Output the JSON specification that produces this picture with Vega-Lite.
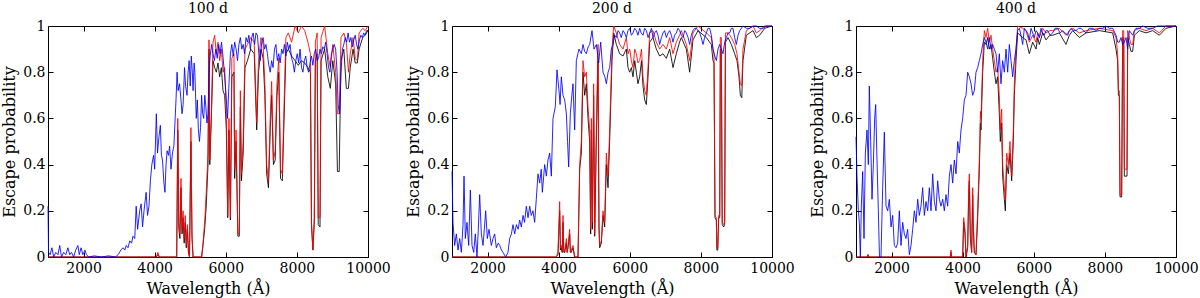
{
"$schema": "https://vega.github.io/schema/vega-lite/v6.json",
"padding": {"left": 1, "top": 1, "right": 2, "bottom": 1},
"spacing": 84,
"bounds": "flush",
"config": {
 "font": "DejaVu Serif",
 "view": {"stroke": "#000", "strokeWidth": 1},
 "axis": {"grid": false, "domain": false, "tickColor": "#000", "tickSize": -5, "tickWidth": 1, "labelFontSize": 14, "labelColor": "#000", "titleFontSize": 16, "titleFontWeight": "normal", "titleColor": "#000", "labelFont": "DejaVu Serif", "titleFont": "DejaVu Serif"},
 "axisX": {"labelPadding": 9, "titlePadding": 5},
 "axisY": {"labelPadding": 8, "titlePadding": 5},
 "title": {"fontSize": 14, "fontWeight": "normal", "font": "DejaVu Serif", "color": "#000", "offset": 3}
},
"datasets": {
"p1": [
{"s":"k","x":1000,"y":0},{"s":"k","x":4050,"y":0},{"s":"k","x":4090,"y":0.01},{"s":"k","x":4130,"y":0},{"s":"k","x":4620,"y":0},{"s":"k","x":4650,"y":0.55},{"s":"k","x":4680,"y":0.12},{"s":"k","x":4710,"y":0.08},{"s":"k","x":4740,"y":0.3},{"s":"k","x":4770,"y":0.1},{"s":"k","x":4800,"y":0.17},{"s":"k","x":4830,"y":0.06},{"s":"k","x":4860,"y":0.15},{"s":"k","x":4890,"y":0.04},{"s":"k","x":4920,"y":0.12},{"s":"k","x":4950,"y":0.02},{"s":"k","x":4980,"y":0},{"s":"k","x":5020,"y":0.5},{"s":"k","x":5050,"y":0.08},{"s":"k","x":5080,"y":0},{"s":"k","x":5320,"y":0},{"s":"k","x":5360,"y":0.05},{"s":"k","x":5410,"y":0.13},{"s":"k","x":5450,"y":0.22},{"s":"k","x":5500,"y":0.4},{"s":"k","x":5528,"y":0.9},{"s":"k","x":5550,"y":0.4},{"s":"k","x":5594,"y":0.6},{"s":"k","x":5641,"y":0.85},{"s":"k","x":5688,"y":0.82},{"s":"k","x":5734,"y":0.8},{"s":"k","x":5781,"y":0.84},{"s":"k","x":5828,"y":0.78},{"s":"k","x":5875,"y":0.82},{"s":"k","x":5922,"y":0.72},{"s":"k","x":5969,"y":0.7},{"s":"k","x":6016,"y":0.55},{"s":"k","x":6055,"y":0.17},{"s":"k","x":6090,"y":0.55},{"s":"k","x":6130,"y":0.16},{"s":"k","x":6170,"y":0.78},{"s":"k","x":6230,"y":0.8},{"s":"k","x":6250,"y":0.34},{"s":"k","x":6290,"y":0.5},{"s":"k","x":6340,"y":0.09},{"s":"k","x":6380,"y":0.09},{"s":"k","x":6410,"y":0.65},{"s":"k","x":6440,"y":0.33},{"s":"k","x":6490,"y":0.45},{"s":"k","x":6540,"y":0.82},{"s":"k","x":6610,"y":0.85},{"s":"k","x":6700,"y":0.9},{"s":"k","x":6800,"y":0.88},{"s":"k","x":6870,"y":0.55},{"s":"k","x":6920,"y":0.8},{"s":"k","x":6990,"y":0.9},{"s":"k","x":7050,"y":0.86},{"s":"k","x":7100,"y":0.7},{"s":"k","x":7150,"y":0.36},{"s":"k","x":7200,"y":0.3},{"s":"k","x":7250,"y":0.55},{"s":"k","x":7290,"y":0.7},{"s":"k","x":7340,"y":0.4},{"s":"k","x":7390,"y":0.42},{"s":"k","x":7440,"y":0.7},{"s":"k","x":7490,"y":0.8},{"s":"k","x":7540,"y":0.34},{"s":"k","x":7590,"y":0.33},{"s":"k","x":7640,"y":0.6},{"s":"k","x":7690,"y":0.88},{"s":"k","x":7760,"y":0.9},{"s":"k","x":7850,"y":0.87},{"s":"k","x":7950,"y":0.85},{"s":"k","x":8040,"y":0.83},{"s":"k","x":8130,"y":0.85},{"s":"k","x":8220,"y":0.84},{"s":"k","x":8310,"y":0.82},{"s":"k","x":8380,"y":0.8},{"s":"k","x":8410,"y":0.14},{"s":"k","x":8450,"y":0.03},{"s":"k","x":8490,"y":0.15},{"s":"k","x":8520,"y":0.85},{"s":"k","x":8570,"y":0.88},{"s":"k","x":8600,"y":0.14},{"s":"k","x":8650,"y":0.13},{"s":"k","x":8680,"y":0.85},{"s":"k","x":8780,"y":0.9},{"s":"k","x":8870,"y":0.78},{"s":"k","x":8940,"y":0.73},{"s":"k","x":9010,"y":0.85},{"s":"k","x":9090,"y":0.75},{"s":"k","x":9140,"y":0.37},{"s":"k","x":9190,"y":0.37},{"s":"k","x":9240,"y":0.85},{"s":"k","x":9320,"y":0.9},{"s":"k","x":9390,"y":0.73},{"s":"k","x":9450,"y":0.73},{"s":"k","x":9500,"y":0.82},{"s":"k","x":9580,"y":0.9},{"s":"k","x":9640,"y":0.84},{"s":"k","x":9700,"y":0.84},{"s":"k","x":9750,"y":0.9},{"s":"k","x":9850,"y":0.95},{"s":"k","x":9920,"y":0.96},{"s":"k","x":10000,"y":0.98},
{"s":"r","x":1000,"y":0},{"s":"r","x":4050,"y":0},{"s":"r","x":4090,"y":0.02},{"s":"r","x":4130,"y":0},{"s":"r","x":4620,"y":0},{"s":"r","x":4650,"y":0.6},{"s":"r","x":4680,"y":0.15},{"s":"r","x":4710,"y":0.1},{"s":"r","x":4740,"y":0.34},{"s":"r","x":4770,"y":0.12},{"s":"r","x":4800,"y":0.2},{"s":"r","x":4830,"y":0.08},{"s":"r","x":4860,"y":0.18},{"s":"r","x":4890,"y":0.05},{"s":"r","x":4920,"y":0.14},{"s":"r","x":4950,"y":0.02},{"s":"r","x":4980,"y":0},{"s":"r","x":5020,"y":0.56},{"s":"r","x":5050,"y":0.1},{"s":"r","x":5080,"y":0},{"s":"r","x":5320,"y":0},{"s":"r","x":5360,"y":0.06},{"s":"r","x":5410,"y":0.16},{"s":"r","x":5450,"y":0.28},{"s":"r","x":5500,"y":0.45},{"s":"r","x":5528,"y":0.94},{"s":"r","x":5550,"y":0.42},{"s":"r","x":5594,"y":0.62},{"s":"r","x":5641,"y":0.93},{"s":"r","x":5688,"y":0.96},{"s":"r","x":5734,"y":0.88},{"s":"r","x":5781,"y":0.93},{"s":"r","x":5828,"y":0.85},{"s":"r","x":5875,"y":0.9},{"s":"r","x":5922,"y":0.8},{"s":"r","x":5969,"y":0.82},{"s":"r","x":6016,"y":0.62},{"s":"r","x":6055,"y":0.18},{"s":"r","x":6090,"y":0.6},{"s":"r","x":6130,"y":0.17},{"s":"r","x":6170,"y":0.86},{"s":"r","x":6230,"y":0.88},{"s":"r","x":6250,"y":0.38},{"s":"r","x":6290,"y":0.55},{"s":"r","x":6340,"y":0.1},{"s":"r","x":6380,"y":0.1},{"s":"r","x":6410,"y":0.72},{"s":"r","x":6440,"y":0.36},{"s":"r","x":6490,"y":0.5},{"s":"r","x":6540,"y":0.9},{"s":"r","x":6610,"y":0.92},{"s":"r","x":6700,"y":0.95},{"s":"r","x":6800,"y":0.93},{"s":"r","x":6870,"y":0.58},{"s":"r","x":6920,"y":0.85},{"s":"r","x":6990,"y":0.95},{"s":"r","x":7050,"y":0.92},{"s":"r","x":7100,"y":0.75},{"s":"r","x":7150,"y":0.4},{"s":"r","x":7200,"y":0.33},{"s":"r","x":7250,"y":0.6},{"s":"r","x":7290,"y":0.76},{"s":"r","x":7340,"y":0.42},{"s":"r","x":7390,"y":0.46},{"s":"r","x":7440,"y":0.75},{"s":"r","x":7490,"y":0.86},{"s":"r","x":7540,"y":0.38},{"s":"r","x":7590,"y":0.36},{"s":"r","x":7640,"y":0.66},{"s":"r","x":7690,"y":0.95},{"s":"r","x":7760,"y":0.97},{"s":"r","x":7850,"y":0.93},{"s":"r","x":7950,"y":1.0},{"s":"r","x":8040,"y":0.97},{"s":"r","x":8130,"y":1.0},{"s":"r","x":8220,"y":0.98},{"s":"r","x":8310,"y":0.93},{"s":"r","x":8380,"y":0.88},{"s":"r","x":8410,"y":0.15},{"s":"r","x":8450,"y":0.03},{"s":"r","x":8490,"y":0.17},{"s":"r","x":8520,"y":0.93},{"s":"r","x":8570,"y":0.97},{"s":"r","x":8600,"y":0.17},{"s":"r","x":8650,"y":0.17},{"s":"r","x":8680,"y":0.95},{"s":"r","x":8780,"y":1.0},{"s":"r","x":8870,"y":0.88},{"s":"r","x":8940,"y":0.82},{"s":"r","x":9010,"y":0.92},{"s":"r","x":9090,"y":0.8},{"s":"r","x":9140,"y":0.62},{"s":"r","x":9190,"y":0.62},{"s":"r","x":9240,"y":0.95},{"s":"r","x":9320,"y":0.97},{"s":"r","x":9390,"y":0.93},{"s":"r","x":9450,"y":0.8},{"s":"r","x":9500,"y":0.88},{"s":"r","x":9580,"y":0.95},{"s":"r","x":9640,"y":0.86},{"s":"r","x":9700,"y":0.85},{"s":"r","x":9750,"y":0.97},{"s":"r","x":9850,"y":0.99},{"s":"r","x":9920,"y":0.98},{"s":"r","x":10000,"y":1.0},
{"s":"b","x":1000,"y":0.22},{"s":"b","x":1015,"y":0.02},{"s":"b","x":1060,"y":0.01},{"s":"b","x":1110,"y":0.04},{"s":"b","x":1160,"y":0},{"s":"b","x":1220,"y":0.02},{"s":"b","x":1280,"y":0.01},{"s":"b","x":1330,"y":0.05},{"s":"b","x":1380,"y":0},{"s":"b","x":1440,"y":0.02},{"s":"b","x":1500,"y":0.01},{"s":"b","x":1560,"y":0.04},{"s":"b","x":1610,"y":0.01},{"s":"b","x":1660,"y":0.02},{"s":"b","x":1720,"y":0},{"s":"b","x":1780,"y":0.03},{"s":"b","x":1840,"y":0.05},{"s":"b","x":1880,"y":0.01},{"s":"b","x":1930,"y":0.04},{"s":"b","x":1980,"y":0.01},{"s":"b","x":2040,"y":0.03},{"s":"b","x":2080,"y":0.01},{"s":"b","x":2150,"y":0},{"s":"b","x":2300,"y":0.005},{"s":"b","x":2500,"y":0},{"s":"b","x":2700,"y":0.005},{"s":"b","x":2900,"y":0},{"s":"b","x":2970,"y":0.01},{"s":"b","x":3050,"y":0.03},{"s":"b","x":3110,"y":0.04},{"s":"b","x":3160,"y":0.03},{"s":"b","x":3200,"y":0.05},{"s":"b","x":3250,"y":0.04},{"s":"b","x":3300,"y":0.07},{"s":"b","x":3350,"y":0.06},{"s":"b","x":3390,"y":0.09},{"s":"b","x":3440,"y":0.08},{"s":"b","x":3480,"y":0.22},{"s":"b","x":3520,"y":0.12},{"s":"b","x":3580,"y":0.2},{"s":"b","x":3620,"y":0.23},{"s":"b","x":3660,"y":0.13},{"s":"b","x":3700,"y":0.2},{"s":"b","x":3760,"y":0.28},{"s":"b","x":3800,"y":0.18},{"s":"b","x":3840,"y":0.22},{"s":"b","x":3880,"y":0.33},{"s":"b","x":3920,"y":0.4},{"s":"b","x":3970,"y":0.44},{"s":"b","x":4000,"y":0.38},{"s":"b","x":4047,"y":0.62},{"s":"b","x":4080,"y":0.45},{"s":"b","x":4120,"y":0.52},{"s":"b","x":4160,"y":0.57},{"s":"b","x":4190,"y":0.44},{"s":"b","x":4220,"y":0.42},{"s":"b","x":4260,"y":0.32},{"s":"b","x":4290,"y":0.28},{"s":"b","x":4320,"y":0.4},{"s":"b","x":4350,"y":0.46},{"s":"b","x":4390,"y":0.44},{"s":"b","x":4420,"y":0.48},{"s":"b","x":4460,"y":0.38},{"s":"b","x":4500,"y":0.45},{"s":"b","x":4540,"y":0.48},{"s":"b","x":4570,"y":0.58},{"s":"b","x":4600,"y":0.68},{"s":"b","x":4630,"y":0.8},{"s":"b","x":4660,"y":0.72},{"s":"b","x":4700,"y":0.75},{"s":"b","x":4740,"y":0.68},{"s":"b","x":4770,"y":0.62},{"s":"b","x":4800,"y":0.66},{"s":"b","x":4840,"y":0.82},{"s":"b","x":4870,"y":0.74},{"s":"b","x":4910,"y":0.7},{"s":"b","x":4940,"y":0.8},{"s":"b","x":4970,"y":0.85},{"s":"b","x":5000,"y":0.74},{"s":"b","x":5030,"y":0.87},{"s":"b","x":5060,"y":0.8},{"s":"b","x":5080,"y":0.72},{"s":"b","x":5110,"y":0.84},{"s":"b","x":5130,"y":0.8},{"s":"b","x":5170,"y":0.6},{"s":"b","x":5200,"y":0.68},{"s":"b","x":5230,"y":0.55},{"s":"b","x":5260,"y":0.5},{"s":"b","x":5290,"y":0.56},{"s":"b","x":5320,"y":0.7},{"s":"b","x":5350,"y":0.62},{"s":"b","x":5380,"y":0.6},{"s":"b","x":5410,"y":0.7},{"s":"b","x":5440,"y":0.65},{"s":"b","x":5470,"y":0.58},{"s":"b","x":5500,"y":0.62},{"s":"b","x":5530,"y":0.8},{"s":"b","x":5560,"y":0.87},{"s":"b","x":5600,"y":0.92},{"s":"b","x":5640,"y":0.88},{"s":"b","x":5680,"y":0.85},{"s":"b","x":5720,"y":0.9},{"s":"b","x":5760,"y":0.86},{"s":"b","x":5800,"y":0.92},{"s":"b","x":5840,"y":0.88},{"s":"b","x":5880,"y":0.93},{"s":"b","x":5920,"y":0.87},{"s":"b","x":5960,"y":0.8},{"s":"b","x":6000,"y":0.72},{"s":"b","x":6050,"y":0.6},{"s":"b","x":6090,"y":0.75},{"s":"b","x":6130,"y":0.88},{"s":"b","x":6170,"y":0.92},{"s":"b","x":6210,"y":0.87},{"s":"b","x":6250,"y":0.93},{"s":"b","x":6290,"y":0.9},{"s":"b","x":6330,"y":0.85},{"s":"b","x":6370,"y":0.92},{"s":"b","x":6410,"y":0.95},{"s":"b","x":6450,"y":0.9},{"s":"b","x":6490,"y":0.92},{"s":"b","x":6530,"y":0.88},{"s":"b","x":6570,"y":0.95},{"s":"b","x":6610,"y":0.93},{"s":"b","x":6650,"y":0.96},{"s":"b","x":6690,"y":0.9},{"s":"b","x":6730,"y":0.95},{"s":"b","x":6770,"y":0.97},{"s":"b","x":6810,"y":0.92},{"s":"b","x":6850,"y":0.97},{"s":"b","x":6890,"y":0.96},{"s":"b","x":6930,"y":0.88},{"s":"b","x":6970,"y":0.85},{"s":"b","x":7010,"y":0.93},{"s":"b","x":7050,"y":0.95},{"s":"b","x":7090,"y":0.9},{"s":"b","x":7130,"y":0.92},{"s":"b","x":7170,"y":0.88},{"s":"b","x":7210,"y":0.83},{"s":"b","x":7250,"y":0.8},{"s":"b","x":7290,"y":0.85},{"s":"b","x":7330,"y":0.82},{"s":"b","x":7370,"y":0.9},{"s":"b","x":7410,"y":0.92},{"s":"b","x":7450,"y":0.85},{"s":"b","x":7490,"y":0.88},{"s":"b","x":7530,"y":0.84},{"s":"b","x":7570,"y":0.9},{"s":"b","x":7610,"y":0.88},{"s":"b","x":7650,"y":0.92},{"s":"b","x":7690,"y":0.87},{"s":"b","x":7730,"y":0.93},{"s":"b","x":7770,"y":0.9},{"s":"b","x":7810,"y":0.92},{"s":"b","x":7850,"y":0.86},{"s":"b","x":7890,"y":0.84},{"s":"b","x":7930,"y":0.8},{"s":"b","x":7970,"y":0.85},{"s":"b","x":8010,"y":0.88},{"s":"b","x":8050,"y":0.84},{"s":"b","x":8090,"y":0.9},{"s":"b","x":8130,"y":0.82},{"s":"b","x":8170,"y":0.8},{"s":"b","x":8210,"y":0.85},{"s":"b","x":8250,"y":0.87},{"s":"b","x":8290,"y":0.82},{"s":"b","x":8330,"y":0.8},{"s":"b","x":8370,"y":0.84},{"s":"b","x":8410,"y":0.87},{"s":"b","x":8450,"y":0.83},{"s":"b","x":8490,"y":0.88},{"s":"b","x":8530,"y":0.9},{"s":"b","x":8570,"y":0.85},{"s":"b","x":8610,"y":0.86},{"s":"b","x":8650,"y":0.9},{"s":"b","x":8690,"y":0.88},{"s":"b","x":8730,"y":0.91},{"s":"b","x":8770,"y":0.9},{"s":"b","x":8810,"y":0.93},{"s":"b","x":8850,"y":0.88},{"s":"b","x":8890,"y":0.82},{"s":"b","x":8930,"y":0.8},{"s":"b","x":8970,"y":0.88},{"s":"b","x":9010,"y":0.9},{"s":"b","x":9050,"y":0.92},{"s":"b","x":9090,"y":0.9},{"s":"b","x":9130,"y":0.8},{"s":"b","x":9160,"y":0.66},{"s":"b","x":9200,"y":0.62},{"s":"b","x":9240,"y":0.8},{"s":"b","x":9280,"y":0.9},{"s":"b","x":9320,"y":0.92},{"s":"b","x":9360,"y":0.95},{"s":"b","x":9400,"y":0.93},{"s":"b","x":9440,"y":0.97},{"s":"b","x":9480,"y":0.93},{"s":"b","x":9520,"y":0.95},{"s":"b","x":9560,"y":0.91},{"s":"b","x":9600,"y":0.94},{"s":"b","x":9640,"y":0.96},{"s":"b","x":9680,"y":0.92},{"s":"b","x":9720,"y":0.9},{"s":"b","x":9760,"y":0.94},{"s":"b","x":9800,"y":0.96},{"s":"b","x":9840,"y":0.95},{"s":"b","x":9880,"y":0.97},{"s":"b","x":9920,"y":0.96},{"s":"b","x":9960,"y":0.98},{"s":"b","x":10000,"y":0.98}
],
"p2": [
{"s":"k","x":1000,"y":0},{"s":"k","x":3934,"y":0},{"s":"k","x":3981,"y":0.01},{"s":"k","x":4028,"y":0.2},{"s":"k","x":4050,"y":0.03},{"s":"k","x":4075,"y":0.04},{"s":"k","x":4100,"y":0.02},{"s":"k","x":4122,"y":0.15},{"s":"k","x":4145,"y":0.02},{"s":"k","x":4169,"y":0.02},{"s":"k","x":4216,"y":0.06},{"s":"k","x":4240,"y":0.02},{"s":"k","x":4263,"y":0.04},{"s":"k","x":4309,"y":0.1},{"s":"k","x":4330,"y":0.02},{"s":"k","x":4356,"y":0.02},{"s":"k","x":4403,"y":0.04},{"s":"k","x":4450,"y":0},{"s":"k","x":4544,"y":0},{"s":"k","x":4591,"y":0.38},{"s":"k","x":4638,"y":0.45},{"s":"k","x":4684,"y":0.8},{"s":"k","x":4731,"y":0.7},{"s":"k","x":4778,"y":0.75},{"s":"k","x":4825,"y":0.6},{"s":"k","x":4872,"y":0.5},{"s":"k","x":4900,"y":0.1},{"s":"k","x":4919,"y":0.55},{"s":"k","x":4947,"y":0.12},{"s":"k","x":4984,"y":0.7},{"s":"k","x":5013,"y":0.09},{"s":"k","x":5059,"y":0.5},{"s":"k","x":5106,"y":0.85},{"s":"k","x":5134,"y":0.12},{"s":"k","x":5153,"y":0.04},{"s":"k","x":5200,"y":0.06},{"s":"k","x":5247,"y":0.18},{"s":"k","x":5294,"y":0.13},{"s":"k","x":5341,"y":0.4},{"s":"k","x":5388,"y":0.3},{"s":"k","x":5434,"y":0.5},{"s":"k","x":5500,"y":0.85},{"s":"k","x":5547,"y":0.97},{"s":"k","x":5622,"y":0.92},{"s":"k","x":5716,"y":0.88},{"s":"k","x":5809,"y":0.87},{"s":"k","x":5903,"y":0.9},{"s":"k","x":5950,"y":0.82},{"s":"k","x":5997,"y":0.8},{"s":"k","x":6045,"y":0.82},{"s":"k","x":6091,"y":0.78},{"s":"k","x":6140,"y":0.85},{"s":"k","x":6184,"y":0.8},{"s":"k","x":6230,"y":0.75},{"s":"k","x":6278,"y":0.78},{"s":"k","x":6330,"y":0.85},{"s":"k","x":6372,"y":0.74},{"s":"k","x":6419,"y":0.68},{"s":"k","x":6466,"y":0.66},{"s":"k","x":6513,"y":0.78},{"s":"k","x":6560,"y":0.93},{"s":"k","x":6653,"y":0.95},{"s":"k","x":6747,"y":0.9},{"s":"k","x":6841,"y":0.87},{"s":"k","x":6934,"y":0.88},{"s":"k","x":7028,"y":0.86},{"s":"k","x":7122,"y":0.9},{"s":"k","x":7216,"y":0.82},{"s":"k","x":7309,"y":0.88},{"s":"k","x":7400,"y":0.93},{"s":"k","x":7450,"y":0.95},{"s":"k","x":7591,"y":0.9},{"s":"k","x":7684,"y":0.8},{"s":"k","x":7778,"y":0.94},{"s":"k","x":7919,"y":0.98},{"s":"k","x":8153,"y":0.95},{"s":"k","x":8294,"y":0.92},{"s":"k","x":8341,"y":0.85},{"s":"k","x":8369,"y":0.84},{"s":"k","x":8397,"y":0.17},{"s":"k","x":8434,"y":0.16},{"s":"k","x":8450,"y":0.03},{"s":"k","x":8475,"y":0.03},{"s":"k","x":8500,"y":0.17},{"s":"k","x":8530,"y":0.17},{"s":"k","x":8547,"y":0.9},{"s":"k","x":8575,"y":0.9},{"s":"k","x":8600,"y":0.14},{"s":"k","x":8641,"y":0.13},{"s":"k","x":8669,"y":0.14},{"s":"k","x":8690,"y":0.93},{"s":"k","x":8763,"y":0.95},{"s":"k","x":8856,"y":0.92},{"s":"k","x":8950,"y":0.88},{"s":"k","x":9016,"y":0.85},{"s":"k","x":9072,"y":0.78},{"s":"k","x":9110,"y":0.7},{"s":"k","x":9150,"y":0.69},{"s":"k","x":9184,"y":0.85},{"s":"k","x":9278,"y":0.96},{"s":"k","x":9466,"y":0.98},{"s":"k","x":9559,"y":0.95},{"s":"k","x":9653,"y":0.96},{"s":"k","x":9794,"y":0.99},{"s":"k","x":10000,"y":1.0},
{"s":"r","x":1000,"y":0},{"s":"r","x":3934,"y":0},{"s":"r","x":3981,"y":0.02},{"s":"r","x":4028,"y":0.24},{"s":"r","x":4050,"y":0.04},{"s":"r","x":4075,"y":0.05},{"s":"r","x":4100,"y":0.02},{"s":"r","x":4122,"y":0.18},{"s":"r","x":4145,"y":0.03},{"s":"r","x":4169,"y":0.02},{"s":"r","x":4216,"y":0.08},{"s":"r","x":4240,"y":0.02},{"s":"r","x":4263,"y":0.05},{"s":"r","x":4309,"y":0.12},{"s":"r","x":4330,"y":0.02},{"s":"r","x":4356,"y":0.03},{"s":"r","x":4403,"y":0.05},{"s":"r","x":4450,"y":0},{"s":"r","x":4544,"y":0},{"s":"r","x":4591,"y":0.4},{"s":"r","x":4638,"y":0.5},{"s":"r","x":4684,"y":0.85},{"s":"r","x":4731,"y":0.78},{"s":"r","x":4778,"y":0.8},{"s":"r","x":4825,"y":0.65},{"s":"r","x":4872,"y":0.55},{"s":"r","x":4900,"y":0.12},{"s":"r","x":4919,"y":0.6},{"s":"r","x":4947,"y":0.15},{"s":"r","x":4984,"y":0.75},{"s":"r","x":5013,"y":0.1},{"s":"r","x":5059,"y":0.55},{"s":"r","x":5106,"y":0.92},{"s":"r","x":5134,"y":0.15},{"s":"r","x":5153,"y":0.05},{"s":"r","x":5200,"y":0.07},{"s":"r","x":5247,"y":0.2},{"s":"r","x":5294,"y":0.15},{"s":"r","x":5341,"y":0.45},{"s":"r","x":5388,"y":0.35},{"s":"r","x":5434,"y":0.55},{"s":"r","x":5500,"y":0.9},{"s":"r","x":5547,"y":1.0},{"s":"r","x":5622,"y":0.97},{"s":"r","x":5716,"y":0.92},{"s":"r","x":5809,"y":0.9},{"s":"r","x":5903,"y":0.95},{"s":"r","x":5950,"y":0.88},{"s":"r","x":5997,"y":0.9},{"s":"r","x":6045,"y":0.85},{"s":"r","x":6091,"y":0.82},{"s":"r","x":6140,"y":0.9},{"s":"r","x":6184,"y":0.88},{"s":"r","x":6230,"y":0.84},{"s":"r","x":6278,"y":0.85},{"s":"r","x":6330,"y":0.9},{"s":"r","x":6372,"y":0.78},{"s":"r","x":6419,"y":0.72},{"s":"r","x":6466,"y":0.7},{"s":"r","x":6513,"y":0.82},{"s":"r","x":6560,"y":0.97},{"s":"r","x":6653,"y":0.98},{"s":"r","x":6747,"y":0.93},{"s":"r","x":6841,"y":0.9},{"s":"r","x":6934,"y":0.92},{"s":"r","x":7028,"y":0.9},{"s":"r","x":7122,"y":0.95},{"s":"r","x":7216,"y":0.88},{"s":"r","x":7309,"y":0.93},{"s":"r","x":7400,"y":0.96},{"s":"r","x":7450,"y":0.98},{"s":"r","x":7591,"y":0.92},{"s":"r","x":7684,"y":0.85},{"s":"r","x":7778,"y":0.97},{"s":"r","x":7919,"y":1.0},{"s":"r","x":8153,"y":0.97},{"s":"r","x":8294,"y":0.95},{"s":"r","x":8341,"y":0.9},{"s":"r","x":8369,"y":0.88},{"s":"r","x":8397,"y":0.18},{"s":"r","x":8434,"y":0.17},{"s":"r","x":8450,"y":0.04},{"s":"r","x":8475,"y":0.04},{"s":"r","x":8500,"y":0.18},{"s":"r","x":8530,"y":0.18},{"s":"r","x":8547,"y":0.95},{"s":"r","x":8575,"y":0.95},{"s":"r","x":8600,"y":0.15},{"s":"r","x":8641,"y":0.14},{"s":"r","x":8669,"y":0.15},{"s":"r","x":8690,"y":0.97},{"s":"r","x":8763,"y":0.97},{"s":"r","x":8856,"y":0.95},{"s":"r","x":8950,"y":0.92},{"s":"r","x":9016,"y":0.88},{"s":"r","x":9072,"y":0.8},{"s":"r","x":9110,"y":0.75},{"s":"r","x":9150,"y":0.74},{"s":"r","x":9184,"y":0.9},{"s":"r","x":9278,"y":0.98},{"s":"r","x":9466,"y":1.0},{"s":"r","x":9559,"y":0.97},{"s":"r","x":9653,"y":0.98},{"s":"r","x":9794,"y":1.0},{"s":"r","x":10000,"y":1.0},
{"s":"b","x":1000,"y":0.37},{"s":"b","x":1028,"y":0.15},{"s":"b","x":1075,"y":0.05},{"s":"b","x":1122,"y":0.1},{"s":"b","x":1169,"y":0.03},{"s":"b","x":1216,"y":0.08},{"s":"b","x":1263,"y":0.02},{"s":"b","x":1310,"y":0.14},{"s":"b","x":1338,"y":0.35},{"s":"b","x":1375,"y":0.08},{"s":"b","x":1422,"y":0.15},{"s":"b","x":1469,"y":0.05},{"s":"b","x":1516,"y":0.29},{"s":"b","x":1563,"y":0.05},{"s":"b","x":1610,"y":0.02},{"s":"b","x":1656,"y":0.1},{"s":"b","x":1703,"y":0},{"s":"b","x":1740,"y":0.12},{"s":"b","x":1778,"y":0.27},{"s":"b","x":1825,"y":0.1},{"s":"b","x":1872,"y":0.05},{"s":"b","x":1910,"y":0.12},{"s":"b","x":1947,"y":0.2},{"s":"b","x":1994,"y":0.08},{"s":"b","x":2041,"y":0.12},{"s":"b","x":2106,"y":0.05},{"s":"b","x":2153,"y":0.08},{"s":"b","x":2200,"y":0.1},{"s":"b","x":2247,"y":0.04},{"s":"b","x":2300,"y":0.06},{"s":"b","x":2341,"y":0.05},{"s":"b","x":2390,"y":0.03},{"s":"b","x":2435,"y":0.02},{"s":"b","x":2510,"y":0},{"s":"b","x":2575,"y":0.02},{"s":"b","x":2622,"y":0.08},{"s":"b","x":2670,"y":0.1},{"s":"b","x":2716,"y":0.14},{"s":"b","x":2763,"y":0.1},{"s":"b","x":2810,"y":0.14},{"s":"b","x":2860,"y":0.12},{"s":"b","x":2903,"y":0.16},{"s":"b","x":2950,"y":0.13},{"s":"b","x":2997,"y":0.18},{"s":"b","x":3040,"y":0.15},{"s":"b","x":3091,"y":0.22},{"s":"b","x":3138,"y":0.17},{"s":"b","x":3185,"y":0.22},{"s":"b","x":3230,"y":0.18},{"s":"b","x":3278,"y":0.2},{"s":"b","x":3325,"y":0.15},{"s":"b","x":3370,"y":0.25},{"s":"b","x":3419,"y":0.36},{"s":"b","x":3466,"y":0.32},{"s":"b","x":3510,"y":0.38},{"s":"b","x":3541,"y":0.28},{"s":"b","x":3606,"y":0.4},{"s":"b","x":3653,"y":0.35},{"s":"b","x":3700,"y":0.42},{"s":"b","x":3747,"y":0.45},{"s":"b","x":3794,"y":0.35},{"s":"b","x":3841,"y":0.6},{"s":"b","x":3906,"y":0.65},{"s":"b","x":3953,"y":0.81},{"s":"b","x":4010,"y":0.72},{"s":"b","x":4040,"y":0.66},{"s":"b","x":4075,"y":0.78},{"s":"b","x":4122,"y":0.7},{"s":"b","x":4170,"y":0.68},{"s":"b","x":4216,"y":0.62},{"s":"b","x":4250,"y":0.5},{"s":"b","x":4281,"y":0.39},{"s":"b","x":4328,"y":0.62},{"s":"b","x":4360,"y":0.68},{"s":"b","x":4403,"y":0.75},{"s":"b","x":4450,"y":0.55},{"s":"b","x":4497,"y":0.85},{"s":"b","x":4540,"y":0.88},{"s":"b","x":4572,"y":0.9},{"s":"b","x":4638,"y":0.88},{"s":"b","x":4685,"y":0.92},{"s":"b","x":4730,"y":0.89},{"s":"b","x":4778,"y":0.88},{"s":"b","x":4830,"y":0.91},{"s":"b","x":4872,"y":0.92},{"s":"b","x":4938,"y":0.98},{"s":"b","x":4994,"y":0.9},{"s":"b","x":5060,"y":0.92},{"s":"b","x":5125,"y":0.84},{"s":"b","x":5182,"y":0.93},{"s":"b","x":5247,"y":0.8},{"s":"b","x":5300,"y":0.78},{"s":"b","x":5341,"y":0.75},{"s":"b","x":5390,"y":0.8},{"s":"b","x":5435,"y":0.82},{"s":"b","x":5480,"y":0.9},{"s":"b","x":5528,"y":0.92},{"s":"b","x":5575,"y":0.96},{"s":"b","x":5622,"y":0.95},{"s":"b","x":5670,"y":0.98},{"s":"b","x":5716,"y":0.97},{"s":"b","x":5760,"y":0.95},{"s":"b","x":5810,"y":0.98},{"s":"b","x":5855,"y":0.97},{"s":"b","x":5903,"y":0.95},{"s":"b","x":5950,"y":0.98},{"s":"b","x":5997,"y":0.99},{"s":"b","x":6045,"y":0.96},{"s":"b","x":6091,"y":0.97},{"s":"b","x":6140,"y":0.99},{"s":"b","x":6185,"y":0.98},{"s":"b","x":6230,"y":0.96},{"s":"b","x":6278,"y":0.99},{"s":"b","x":6320,"y":0.97},{"s":"b","x":6372,"y":0.96},{"s":"b","x":6420,"y":0.99},{"s":"b","x":6466,"y":0.98},{"s":"b","x":6515,"y":0.95},{"s":"b","x":6560,"y":0.97},{"s":"b","x":6610,"y":0.99},{"s":"b","x":6653,"y":0.95},{"s":"b","x":6700,"y":0.97},{"s":"b","x":6747,"y":0.98},{"s":"b","x":6795,"y":0.96},{"s":"b","x":6841,"y":0.92},{"s":"b","x":6890,"y":0.95},{"s":"b","x":6935,"y":0.97},{"s":"b","x":6980,"y":0.98},{"s":"b","x":7028,"y":0.95},{"s":"b","x":7075,"y":0.97},{"s":"b","x":7122,"y":0.98},{"s":"b","x":7170,"y":0.96},{"s":"b","x":7216,"y":0.93},{"s":"b","x":7260,"y":0.96},{"s":"b","x":7310,"y":0.97},{"s":"b","x":7355,"y":0.99},{"s":"b","x":7403,"y":0.98},{"s":"b","x":7450,"y":0.96},{"s":"b","x":7497,"y":0.95},{"s":"b","x":7545,"y":0.98},{"s":"b","x":7591,"y":0.97},{"s":"b","x":7640,"y":0.95},{"s":"b","x":7685,"y":0.92},{"s":"b","x":7730,"y":0.96},{"s":"b","x":7778,"y":0.98},{"s":"b","x":7825,"y":0.99},{"s":"b","x":7872,"y":0.99},{"s":"b","x":7920,"y":0.98},{"s":"b","x":7966,"y":0.97},{"s":"b","x":8010,"y":0.95},{"s":"b","x":8060,"y":0.92},{"s":"b","x":8105,"y":0.95},{"s":"b","x":8153,"y":0.97},{"s":"b","x":8200,"y":0.99},{"s":"b","x":8247,"y":0.99},{"s":"b","x":8295,"y":0.96},{"s":"b","x":8341,"y":0.9},{"s":"b","x":8390,"y":0.87},{"s":"b","x":8435,"y":0.85},{"s":"b","x":8480,"y":0.9},{"s":"b","x":8528,"y":0.92},{"s":"b","x":8575,"y":0.9},{"s":"b","x":8622,"y":0.88},{"s":"b","x":8670,"y":0.93},{"s":"b","x":8716,"y":0.95},{"s":"b","x":8763,"y":0.97},{"s":"b","x":8810,"y":0.97},{"s":"b","x":8856,"y":0.99},{"s":"b","x":8903,"y":0.99},{"s":"b","x":8950,"y":0.95},{"s":"b","x":8997,"y":0.92},{"s":"b","x":9045,"y":0.96},{"s":"b","x":9091,"y":0.98},{"s":"b","x":9138,"y":0.99},{"s":"b","x":9185,"y":1.0},{"s":"b","x":9280,"y":0.99},{"s":"b","x":9372,"y":0.99},{"s":"b","x":9466,"y":1.0},{"s":"b","x":9560,"y":1.0},{"s":"b","x":9650,"y":0.99},{"s":"b","x":9747,"y":0.99},{"s":"b","x":9850,"y":1.0},{"s":"b","x":10000,"y":1.0}
],
"p3": [
{"s":"k","x":1000,"y":0},{"s":"k","x":1320,"y":0},{"s":"k","x":1340,"y":0.01},{"s":"k","x":1360,"y":0},{"s":"k","x":3650,"y":0},{"s":"k","x":3672,"y":0.02},{"s":"k","x":3690,"y":0},{"s":"k","x":3980,"y":0},{"s":"k","x":4000,"y":0},{"s":"k","x":4028,"y":0.15},{"s":"k","x":4066,"y":0.1},{"s":"k","x":4094,"y":0},{"s":"k","x":4141,"y":0.04},{"s":"k","x":4170,"y":0.27},{"s":"k","x":4188,"y":0.33},{"s":"k","x":4216,"y":0.08},{"s":"k","x":4253,"y":0.02},{"s":"k","x":4281,"y":0.27},{"s":"k","x":4300,"y":0.12},{"s":"k","x":4328,"y":0.02},{"s":"k","x":4375,"y":0.01},{"s":"k","x":4422,"y":0.17},{"s":"k","x":4469,"y":0.38},{"s":"k","x":4500,"y":0.58},{"s":"k","x":4516,"y":0.55},{"s":"k","x":4563,"y":0.8},{"s":"k","x":4610,"y":0.93},{"s":"k","x":4656,"y":0.92},{"s":"k","x":4703,"y":0.95},{"s":"k","x":4750,"y":0.9},{"s":"k","x":4797,"y":0.92},{"s":"k","x":4844,"y":0.86},{"s":"k","x":4891,"y":0.8},{"s":"k","x":4938,"y":0.75},{"s":"k","x":4984,"y":0.78},{"s":"k","x":5031,"y":0.62},{"s":"k","x":5059,"y":0.5},{"s":"k","x":5097,"y":0.58},{"s":"k","x":5125,"y":0.35},{"s":"k","x":5172,"y":0.25},{"s":"k","x":5200,"y":0.2},{"s":"k","x":5238,"y":0.4},{"s":"k","x":5284,"y":0.36},{"s":"k","x":5331,"y":0.45},{"s":"k","x":5378,"y":0.33},{"s":"k","x":5425,"y":0.5},{"s":"k","x":5453,"y":0.7},{"s":"k","x":5500,"y":0.85},{"s":"k","x":5547,"y":0.97},{"s":"k","x":5688,"y":0.95},{"s":"k","x":5781,"y":0.94},{"s":"k","x":5875,"y":0.88},{"s":"k","x":5969,"y":0.93},{"s":"k","x":6063,"y":0.9},{"s":"k","x":6110,"y":0.95},{"s":"k","x":6156,"y":0.92},{"s":"k","x":6250,"y":0.97},{"s":"k","x":6344,"y":0.94},{"s":"k","x":6450,"y":0.96},{"s":"k","x":6531,"y":0.96},{"s":"k","x":6719,"y":0.97},{"s":"k","x":6906,"y":0.92},{"s":"k","x":7000,"y":0.96},{"s":"k","x":7094,"y":0.98},{"s":"k","x":7281,"y":0.95},{"s":"k","x":7469,"y":0.97},{"s":"k","x":7844,"y":0.98},{"s":"k","x":8219,"y":0.97},{"s":"k","x":8313,"y":0.9},{"s":"k","x":8359,"y":0.85},{"s":"k","x":8380,"y":0.7},{"s":"k","x":8406,"y":0.7},{"s":"k","x":8425,"y":0.26},{"s":"k","x":8472,"y":0.26},{"s":"k","x":8500,"y":0.95},{"s":"k","x":8530,"y":0.95},{"s":"k","x":8547,"y":0.35},{"s":"k","x":8622,"y":0.35},{"s":"k","x":8641,"y":0.95},{"s":"k","x":8688,"y":0.92},{"s":"k","x":8734,"y":0.89},{"s":"k","x":8781,"y":0.89},{"s":"k","x":8830,"y":0.96},{"s":"k","x":8969,"y":0.98},{"s":"k","x":9156,"y":0.97},{"s":"k","x":9344,"y":0.98},{"s":"k","x":9531,"y":0.96},{"s":"k","x":9719,"y":0.99},{"s":"k","x":10000,"y":1.0},
{"s":"r","x":1000,"y":0},{"s":"r","x":1320,"y":0},{"s":"r","x":1340,"y":0.01},{"s":"r","x":1360,"y":0},{"s":"r","x":3650,"y":0},{"s":"r","x":3672,"y":0.03},{"s":"r","x":3690,"y":0},{"s":"r","x":3980,"y":0},{"s":"r","x":4000,"y":0},{"s":"r","x":4028,"y":0.17},{"s":"r","x":4066,"y":0.12},{"s":"r","x":4094,"y":0},{"s":"r","x":4141,"y":0.05},{"s":"r","x":4170,"y":0.3},{"s":"r","x":4188,"y":0.36},{"s":"r","x":4216,"y":0.1},{"s":"r","x":4253,"y":0.02},{"s":"r","x":4281,"y":0.3},{"s":"r","x":4300,"y":0.15},{"s":"r","x":4328,"y":0.02},{"s":"r","x":4375,"y":0.01},{"s":"r","x":4422,"y":0.2},{"s":"r","x":4469,"y":0.42},{"s":"r","x":4500,"y":0.63},{"s":"r","x":4516,"y":0.6},{"s":"r","x":4563,"y":0.85},{"s":"r","x":4610,"y":0.98},{"s":"r","x":4656,"y":0.95},{"s":"r","x":4703,"y":0.99},{"s":"r","x":4750,"y":0.93},{"s":"r","x":4797,"y":0.96},{"s":"r","x":4844,"y":0.9},{"s":"r","x":4891,"y":0.85},{"s":"r","x":4938,"y":0.8},{"s":"r","x":4984,"y":0.82},{"s":"r","x":5031,"y":0.7},{"s":"r","x":5059,"y":0.55},{"s":"r","x":5097,"y":0.64},{"s":"r","x":5125,"y":0.4},{"s":"r","x":5172,"y":0.3},{"s":"r","x":5200,"y":0.25},{"s":"r","x":5238,"y":0.45},{"s":"r","x":5284,"y":0.4},{"s":"r","x":5331,"y":0.5},{"s":"r","x":5378,"y":0.35},{"s":"r","x":5425,"y":0.55},{"s":"r","x":5453,"y":0.75},{"s":"r","x":5500,"y":0.9},{"s":"r","x":5547,"y":1.0},{"s":"r","x":5688,"y":0.99},{"s":"r","x":5781,"y":0.98},{"s":"r","x":5875,"y":0.93},{"s":"r","x":5969,"y":0.96},{"s":"r","x":6063,"y":0.93},{"s":"r","x":6110,"y":0.97},{"s":"r","x":6156,"y":0.95},{"s":"r","x":6250,"y":0.99},{"s":"r","x":6344,"y":0.97},{"s":"r","x":6450,"y":0.98},{"s":"r","x":6531,"y":0.98},{"s":"r","x":6719,"y":0.99},{"s":"r","x":6906,"y":0.96},{"s":"r","x":7000,"y":0.98},{"s":"r","x":7094,"y":0.99},{"s":"r","x":7281,"y":0.97},{"s":"r","x":7469,"y":0.98},{"s":"r","x":7844,"y":0.99},{"s":"r","x":8219,"y":0.98},{"s":"r","x":8313,"y":0.95},{"s":"r","x":8359,"y":0.88},{"s":"r","x":8380,"y":0.72},{"s":"r","x":8406,"y":0.72},{"s":"r","x":8425,"y":0.27},{"s":"r","x":8472,"y":0.27},{"s":"r","x":8500,"y":0.98},{"s":"r","x":8530,"y":0.98},{"s":"r","x":8547,"y":0.38},{"s":"r","x":8622,"y":0.38},{"s":"r","x":8641,"y":0.98},{"s":"r","x":8688,"y":0.95},{"s":"r","x":8734,"y":0.92},{"s":"r","x":8781,"y":0.92},{"s":"r","x":8830,"y":0.98},{"s":"r","x":8969,"y":0.99},{"s":"r","x":9156,"y":0.98},{"s":"r","x":9344,"y":0.99},{"s":"r","x":9531,"y":0.97},{"s":"r","x":9719,"y":1.0},{"s":"r","x":10000,"y":1.0},
{"s":"b","x":1000,"y":0.52},{"s":"b","x":1028,"y":0.35},{"s":"b","x":1066,"y":0.2},{"s":"b","x":1094,"y":0.15},{"s":"b","x":1122,"y":0},{"s":"b","x":1150,"y":0.22},{"s":"b","x":1188,"y":0.37},{"s":"b","x":1225,"y":0.08},{"s":"b","x":1263,"y":0.45},{"s":"b","x":1310,"y":0.55},{"s":"b","x":1347,"y":0.4},{"s":"b","x":1375,"y":0.74},{"s":"b","x":1413,"y":0.5},{"s":"b","x":1450,"y":0.25},{"s":"b","x":1488,"y":0.4},{"s":"b","x":1525,"y":0.6},{"s":"b","x":1553,"y":0.66},{"s":"b","x":1591,"y":0.42},{"s":"b","x":1628,"y":0.2},{"s":"b","x":1660,"y":0},{"s":"b","x":1703,"y":0},{"s":"b","x":1750,"y":0.3},{"s":"b","x":1797,"y":0.54},{"s":"b","x":1844,"y":0.22},{"s":"b","x":1891,"y":0.2},{"s":"b","x":1938,"y":0.25},{"s":"b","x":1985,"y":0.13},{"s":"b","x":2031,"y":0.18},{"s":"b","x":2078,"y":0.05},{"s":"b","x":2125,"y":0.04},{"s":"b","x":2172,"y":0.06},{"s":"b","x":2219,"y":0.2},{"s":"b","x":2266,"y":0.05},{"s":"b","x":2313,"y":0.15},{"s":"b","x":2360,"y":0.1},{"s":"b","x":2406,"y":0.08},{"s":"b","x":2453,"y":0.12},{"s":"b","x":2500,"y":0.01},{"s":"b","x":2547,"y":0.05},{"s":"b","x":2594,"y":0.12},{"s":"b","x":2641,"y":0.2},{"s":"b","x":2688,"y":0.15},{"s":"b","x":2735,"y":0.25},{"s":"b","x":2781,"y":0.18},{"s":"b","x":2828,"y":0.22},{"s":"b","x":2875,"y":0.3},{"s":"b","x":2922,"y":0.18},{"s":"b","x":2969,"y":0.24},{"s":"b","x":3016,"y":0.2},{"s":"b","x":3063,"y":0.3},{"s":"b","x":3110,"y":0.2},{"s":"b","x":3156,"y":0.36},{"s":"b","x":3203,"y":0.24},{"s":"b","x":3250,"y":0.2},{"s":"b","x":3297,"y":0.33},{"s":"b","x":3344,"y":0.25},{"s":"b","x":3391,"y":0.22},{"s":"b","x":3438,"y":0.25},{"s":"b","x":3485,"y":0.2},{"s":"b","x":3531,"y":0.27},{"s":"b","x":3578,"y":0.22},{"s":"b","x":3625,"y":0.35},{"s":"b","x":3672,"y":0.4},{"s":"b","x":3719,"y":0.32},{"s":"b","x":3766,"y":0.42},{"s":"b","x":3813,"y":0.36},{"s":"b","x":3860,"y":0.5},{"s":"b","x":3906,"y":0.45},{"s":"b","x":3953,"y":0.55},{"s":"b","x":4000,"y":0.6},{"s":"b","x":4047,"y":0.68},{"s":"b","x":4094,"y":0.7},{"s":"b","x":4141,"y":0.8},{"s":"b","x":4188,"y":0.78},{"s":"b","x":4235,"y":0.75},{"s":"b","x":4281,"y":0.7},{"s":"b","x":4328,"y":0.72},{"s":"b","x":4375,"y":0.8},{"s":"b","x":4422,"y":0.82},{"s":"b","x":4469,"y":0.85},{"s":"b","x":4516,"y":0.88},{"s":"b","x":4563,"y":0.92},{"s":"b","x":4610,"y":0.95},{"s":"b","x":4656,"y":0.93},{"s":"b","x":4703,"y":0.9},{"s":"b","x":4750,"y":0.95},{"s":"b","x":4797,"y":0.9},{"s":"b","x":4844,"y":0.92},{"s":"b","x":4890,"y":0.9},{"s":"b","x":4938,"y":0.88},{"s":"b","x":4985,"y":0.8},{"s":"b","x":5031,"y":0.88},{"s":"b","x":5078,"y":0.75},{"s":"b","x":5125,"y":0.85},{"s":"b","x":5172,"y":0.8},{"s":"b","x":5219,"y":0.9},{"s":"b","x":5266,"y":0.8},{"s":"b","x":5313,"y":0.92},{"s":"b","x":5360,"y":0.85},{"s":"b","x":5406,"y":0.78},{"s":"b","x":5453,"y":0.85},{"s":"b","x":5500,"y":0.9},{"s":"b","x":5547,"y":0.98},{"s":"b","x":5594,"y":0.99},{"s":"b","x":5641,"y":0.96},{"s":"b","x":5688,"y":0.92},{"s":"b","x":5735,"y":0.99},{"s":"b","x":5780,"y":0.98},{"s":"b","x":5828,"y":0.97},{"s":"b","x":5875,"y":0.94},{"s":"b","x":5922,"y":0.99},{"s":"b","x":5970,"y":0.97},{"s":"b","x":6016,"y":0.95},{"s":"b","x":6063,"y":0.98},{"s":"b","x":6110,"y":0.97},{"s":"b","x":6156,"y":0.95},{"s":"b","x":6203,"y":0.99},{"s":"b","x":6250,"y":0.97},{"s":"b","x":6297,"y":0.96},{"s":"b","x":6344,"y":0.98},{"s":"b","x":6391,"y":0.98},{"s":"b","x":6460,"y":0.96},{"s":"b","x":6531,"y":0.97},{"s":"b","x":6600,"y":0.99},{"s":"b","x":6672,"y":0.99},{"s":"b","x":6740,"y":0.97},{"s":"b","x":6813,"y":0.98},{"s":"b","x":6880,"y":0.97},{"s":"b","x":6953,"y":0.96},{"s":"b","x":7000,"y":0.98},{"s":"b","x":7047,"y":0.99},{"s":"b","x":7120,"y":0.98},{"s":"b","x":7188,"y":0.98},{"s":"b","x":7260,"y":0.99},{"s":"b","x":7328,"y":0.99},{"s":"b","x":7400,"y":0.98},{"s":"b","x":7469,"y":0.97},{"s":"b","x":7560,"y":0.99},{"s":"b","x":7656,"y":0.99},{"s":"b","x":7750,"y":0.98},{"s":"b","x":7844,"y":0.99},{"s":"b","x":7940,"y":0.99},{"s":"b","x":8031,"y":1.0},{"s":"b","x":8130,"y":0.99},{"s":"b","x":8219,"y":0.99},{"s":"b","x":8313,"y":0.96},{"s":"b","x":8360,"y":0.93},{"s":"b","x":8406,"y":0.93},{"s":"b","x":8453,"y":0.95},{"s":"b","x":8500,"y":0.92},{"s":"b","x":8547,"y":0.93},{"s":"b","x":8594,"y":0.95},{"s":"b","x":8641,"y":0.9},{"s":"b","x":8688,"y":0.98},{"s":"b","x":8735,"y":0.97},{"s":"b","x":8781,"y":0.96},{"s":"b","x":8830,"y":0.98},{"s":"b","x":8875,"y":0.99},{"s":"b","x":8970,"y":0.99},{"s":"b","x":9063,"y":1.0},{"s":"b","x":9200,"y":0.99},{"s":"b","x":9344,"y":0.99},{"s":"b","x":9480,"y":1.0},{"s":"b","x":9625,"y":1.0},{"s":"b","x":9800,"y":1.0},{"s":"b","x":10000,"y":1.0}
]
},
"hconcat": [
{"title": "100 d", "width": 320, "height": 231, "data": {"name": "p1"},
 "layer": [
  {"mark": {"type": "line", "strokeWidth": 1, "opacity": 0.85},
   "encoding": {
    "x": {"field": "x", "type": "quantitative", "scale": {"domain": [1000, 10000], "nice": false}, "axis": {"values": [2000, 4000, 6000, 8000, 10000], "format": "d", "labelFlush": false, "title": "Wavelength (Å)"}},
    "y": {"field": "y", "type": "quantitative", "scale": {"domain": [0, 1], "nice": false}, "axis": {"values": [0, 0.2, 0.4, 0.6, 0.8, 1], "format": "~g", "title": "Escape probability"}},
    "color": {"field": "s", "type": "nominal", "scale": {"domain": ["k", "r", "b"], "range": ["#000000", "#ff0000", "#0000ff"]}, "legend": null}}},
  {"mark": {"type": "line", "strokeOpacity": 0},
   "encoding": {
    "x": {"field": "x", "type": "quantitative", "axis": {"orient": "top", "values": [2000, 4000, 6000, 8000, 10000], "labels": false, "title": null}},
    "y": {"field": "y", "type": "quantitative", "axis": {"orient": "right", "values": [0, 0.2, 0.4, 0.6, 0.8, 1], "labels": false, "title": null}}}}
 ],
 "resolve": {"axis": {"x": "independent", "y": "independent"}}},
{"title": "200 d", "width": 320, "height": 231, "data": {"name": "p2"},
 "layer": [
  {"mark": {"type": "line", "strokeWidth": 1, "opacity": 0.85},
   "encoding": {
    "x": {"field": "x", "type": "quantitative", "scale": {"domain": [1000, 10000], "nice": false}, "axis": {"values": [2000, 4000, 6000, 8000, 10000], "format": "d", "labelFlush": false, "title": "Wavelength (Å)"}},
    "y": {"field": "y", "type": "quantitative", "scale": {"domain": [0, 1], "nice": false}, "axis": {"values": [0, 0.2, 0.4, 0.6, 0.8, 1], "format": "~g", "title": "Escape probability"}},
    "color": {"field": "s", "type": "nominal", "scale": {"domain": ["k", "r", "b"], "range": ["#000000", "#ff0000", "#0000ff"]}, "legend": null}}},
  {"mark": {"type": "line", "strokeOpacity": 0},
   "encoding": {
    "x": {"field": "x", "type": "quantitative", "axis": {"orient": "top", "values": [2000, 4000, 6000, 8000, 10000], "labels": false, "title": null}},
    "y": {"field": "y", "type": "quantitative", "axis": {"orient": "right", "values": [0, 0.2, 0.4, 0.6, 0.8, 1], "labels": false, "title": null}}}}
 ],
 "resolve": {"axis": {"x": "independent", "y": "independent"}}},
{"title": "400 d", "width": 320, "height": 231, "data": {"name": "p3"},
 "layer": [
  {"mark": {"type": "line", "strokeWidth": 1, "opacity": 0.85},
   "encoding": {
    "x": {"field": "x", "type": "quantitative", "scale": {"domain": [1000, 10000], "nice": false}, "axis": {"values": [2000, 4000, 6000, 8000, 10000], "format": "d", "labelFlush": false, "title": "Wavelength (Å)"}},
    "y": {"field": "y", "type": "quantitative", "scale": {"domain": [0, 1], "nice": false}, "axis": {"values": [0, 0.2, 0.4, 0.6, 0.8, 1], "format": "~g", "title": "Escape probability"}},
    "color": {"field": "s", "type": "nominal", "scale": {"domain": ["k", "r", "b"], "range": ["#000000", "#ff0000", "#0000ff"]}, "legend": null}}},
  {"mark": {"type": "line", "strokeOpacity": 0},
   "encoding": {
    "x": {"field": "x", "type": "quantitative", "axis": {"orient": "top", "values": [2000, 4000, 6000, 8000, 10000], "labels": false, "title": null}},
    "y": {"field": "y", "type": "quantitative", "axis": {"orient": "right", "values": [0, 0.2, 0.4, 0.6, 0.8, 1], "labels": false, "title": null}}}}
 ],
 "resolve": {"axis": {"x": "independent", "y": "independent"}}}
]
}
